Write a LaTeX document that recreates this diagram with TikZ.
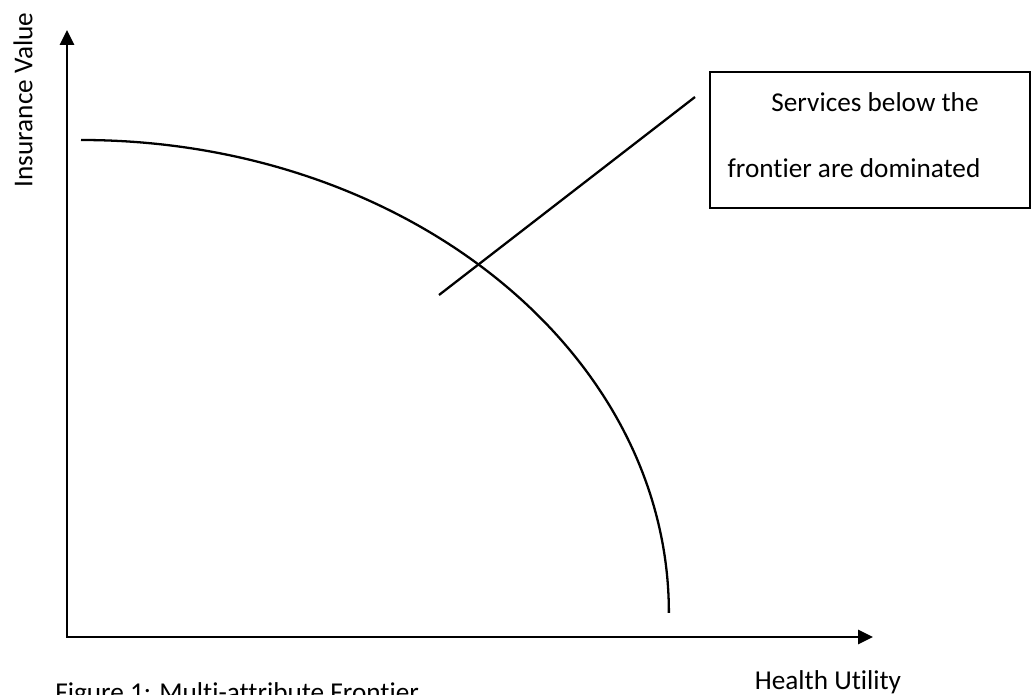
\documentclass[tikz,border=0pt]{standalone}
\usepackage{fontspec}
\setmainfont{Carlito}[Ligatures=NoCommon]
\usepackage{tikz}
\usetikzlibrary{positioning,arrows.meta}

\begin{document}
\begin{tikzpicture}[x=0.02cm, y=0.02cm,
        axis/.style={{Triangle[length=0.3cm,width=0.28cm]}-{Triangle[length=0.3cm,width=0.28cm]}, line width=1.5pt},
        curve/.style={line width=1.3pt},
        lbl/.style={font=\fontsize{15.5}{19}\selectfont, inner sep=0pt}]
        \useasboundingbox (0,0) rectangle (1031,694);

        % axes
        \coordinate (origin) at (67,57);
        \coordinate (ytip) at (67,664);
        \coordinate (xtip) at (873,57);
        \draw[axis] (ytip) -- (origin) -- (xtip);

        % frontier
        \coordinate (front) at (81,554);
        \draw[curve] (front) arc[start angle=90, end angle=0, x radius=11.76cm, y radius=9.46cm];

        % line to the note
        \coordinate (ptr) at (439,399);
        \coordinate (ptrend) at (695,597);
        \draw[curve] (ptr) -- (ptrend);

        % note
        \node[draw, line width=1.3pt, anchor=south west, inner sep=0pt,
            minimum width=6.4cm, minimum height=2.72cm] (note) at (709,485) {};
        \node[lbl] (noteA) at (875,592) {Services below the};
        \node[lbl] (noteB) at (854,526) {frontier are dominated};

        % labels
        \node[lbl, rotate=90] (ylab) at (23,594) {Insurance Value};
        \node[lbl, anchor=base] (xlab) at (828,5) {Health Utility};
        \node[lbl, anchor=base west] (caption) at (55,-7) {Figure 1: Multi-attribute Frontier};
    \end{tikzpicture}
\end{document}
